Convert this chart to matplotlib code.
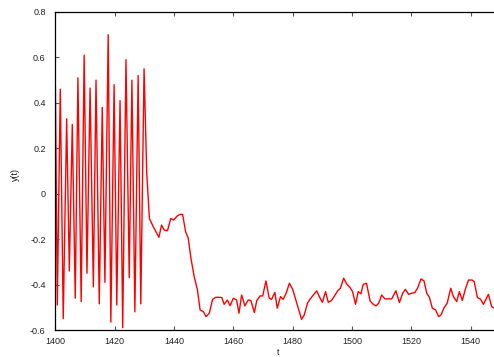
import matplotlib
matplotlib.use("Agg")
import matplotlib.pyplot as plt
from matplotlib.ticker import FuncFormatter, MultipleLocator

plt.rcParams['font.family'] = ['Liberation Sans', 'DejaVu Sans']

# sample times and values
t_vals = [
    1400.0, 1400.65, 1401.65, 1402.65, 1403.8, 1404.7, 1405.7, 1406.7, 1407.6, 1408.7,
    1409.7, 1410.65, 1411.7, 1412.8, 1413.7, 1414.8, 1415.8, 1416.7, 1417.8, 1418.7,
    1419.8, 1420.7, 1421.8, 1422.7, 1423.8, 1424.9, 1425.8, 1426.8, 1427.9, 1428.8,
    1429.9, 1430.8, 1431.7, 1433.0, 1434.9, 1435.8, 1436.7, 1437.8, 1438.9, 1439.8,
    1441.1, 1442.0, 1442.9, 1443.9, 1444.8, 1445.7, 1446.8, 1447.9, 1448.8, 1449.9,
    1450.8, 1451.9, 1453.0, 1454.1, 1455.1, 1456.1, 1456.9, 1458.0, 1458.9, 1460.0,
    1461.1, 1461.9, 1462.8, 1463.9, 1465.0, 1465.9, 1467.1, 1467.9, 1469.0, 1469.9,
    1471.0, 1472.1, 1472.9, 1474.0, 1474.8, 1475.9, 1476.8, 1477.8, 1478.9, 1480.0,
    1480.9, 1481.9, 1483.0, 1483.9, 1485.0, 1485.8, 1487.0, 1488.1, 1489.0, 1490.0,
    1491.1, 1492.0, 1493.1, 1494.3, 1495.2, 1496.1, 1497.2, 1498.2, 1499.3, 1500.2,
    1501.2, 1502.1, 1503.0, 1503.8, 1504.9, 1506.1, 1507.2, 1508.1, 1509.0, 1510.0,
    1511.1, 1512.2, 1513.4, 1514.8, 1516.0, 1517.1, 1518.0, 1519.1, 1520.1, 1521.2,
    1522.1, 1523.3, 1524.3, 1525.2, 1526.1, 1527.1, 1528.2, 1529.2, 1530.0, 1531.1,
    1532.1, 1533.3, 1534.2, 1535.3, 1536.2, 1537.2, 1538.2, 1539.3, 1540.5, 1541.2,
    1542.3, 1543.4, 1544.3, 1546.0, 1547.1, 1547.9, 1549.0,
]
y_vals = [
    0.47, -0.49, 0.46, -0.55, 0.33, -0.34, 0.305, -0.46, 0.51, -0.475,
    0.61, -0.35, 0.465, -0.41, 0.50, -0.485, 0.38, -0.39, 0.70, -0.565,
    0.48, -0.49, 0.41, -0.59, 0.59, -0.37, 0.50, -0.52, 0.52, -0.485,
    0.55, 0.09, -0.109, -0.145, -0.192, -0.138, -0.16, -0.163, -0.109, -0.116,
    -0.098, -0.091, -0.091, -0.167, -0.196, -0.284, -0.365, -0.424, -0.512, -0.519,
    -0.541, -0.526, -0.465, -0.456, -0.456, -0.457, -0.487, -0.468, -0.493, -0.46,
    -0.468, -0.526, -0.446, -0.494, -0.468, -0.47, -0.523, -0.47, -0.45, -0.45,
    -0.384, -0.46, -0.465, -0.434, -0.504, -0.453, -0.465, -0.438, -0.394, -0.421,
    -0.46, -0.504, -0.553, -0.534, -0.482, -0.465, -0.446, -0.428, -0.453, -0.478,
    -0.431, -0.478, -0.47, -0.446, -0.427, -0.416, -0.372, -0.397, -0.412, -0.431,
    -0.487, -0.431, -0.441, -0.399, -0.394, -0.472, -0.487, -0.494, -0.482, -0.446,
    -0.463, -0.463, -0.463, -0.427, -0.479, -0.438, -0.421, -0.443, -0.438, -0.435,
    -0.416, -0.375, -0.384, -0.438, -0.456, -0.504, -0.512, -0.541, -0.534, -0.501,
    -0.482, -0.416, -0.453, -0.475, -0.431, -0.47, -0.421, -0.38, -0.38, -0.387,
    -0.457, -0.465, -0.487, -0.443, -0.497, -0.504, -0.49,
]

x_range = (1400, 1550)
y_range = (-0.6, 0.8)

fig = plt.figure(figsize=(4.94, 3.57), dpi=100)
ax = fig.add_axes([0.1121, 0.0756, 0.9006, 0.8908])

ax.plot(t_vals, y_vals, color="#ff0000", linewidth=1.0)

ax.set_xlim(*x_range)
ax.set_ylim(*y_range)
ax.xaxis.set_major_locator(MultipleLocator(20))
ax.yaxis.set_major_locator(MultipleLocator(0.2))
ax.yaxis.set_major_formatter(FuncFormatter(lambda v, p: f"{v:g}"))

ax.tick_params(direction="in", length=3, width=0.8, color="#555555",
               labelsize=6.5, labelcolor="#222222", top=True, right=True)
ax.tick_params(axis="x", pad=5)
ax.tick_params(axis="y", pad=7)
for s in ax.spines.values():
    s.set_linewidth(0.9)
    s.set_color("black")

ax.set_xlabel("t", fontsize=6.5, color="#222222")
ax.set_ylabel("y(t)", fontsize=6.5, color="#222222")
ax.xaxis.set_label_coords(0.5, -0.057)
ax.yaxis.set_label_coords(-0.080, 0.49)

fig.savefig("out.png", dpi=100)
